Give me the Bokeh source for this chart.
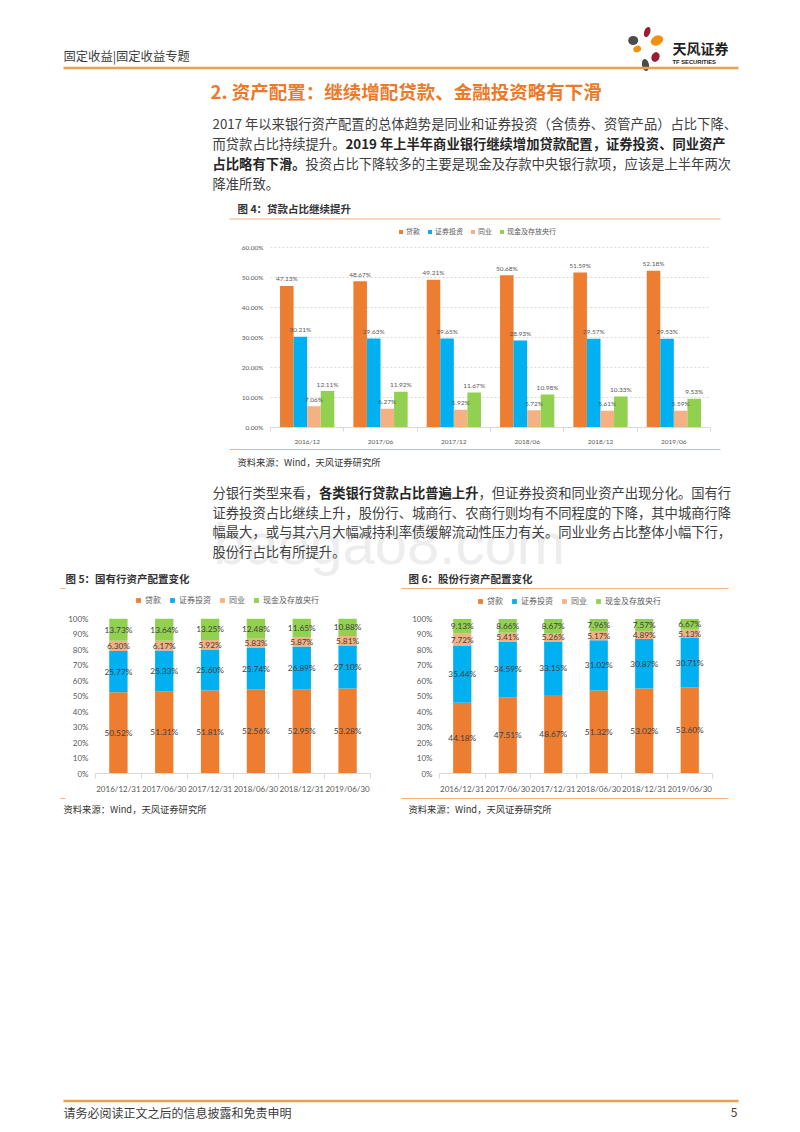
import numpy as np
from bokeh.plotting import figure
from bokeh.layouts import column, row
from bokeh.models import Range1d, FixedTicker, PrintfTickFormatter, ColumnDataSource
from bokeh.core.properties import value
from bokeh.embed import file_html
from bokeh.resources import INLINE

# ---------------- data ----------------
series_names = ["贷款", "证券投资", "同业", "现金及存放央行"]
series_colors = ["#ED7D31", "#00B0F0", "#F4B183", "#92D050"]

fig4_periods = ["2016/12", "2017/06", "2017/12", "2018/06", "2018/12", "2019/06"]
fig4_loans = [47.13, 48.67, 49.21, 50.68, 51.59, 52.18]
fig4_securities = [30.21, 29.63, 29.65, 28.93, 29.57, 29.53]
fig4_interbank = [7.06, 6.27, 5.92, 5.72, 5.61, 5.59]
fig4_cash = [12.11, 11.92, 11.67, 10.98, 10.33, 9.53]
fig4_yticks = [0, 10, 20, 30, 40, 50, 60]

stack_dates = ["2016/12/31", "2017/06/30", "2017/12/31", "2018/06/30", "2018/12/31", "2019/06/30"]
stack_yticks = [0, 10, 20, 30, 40, 50, 60, 70, 80, 90, 100]

fig5_loans = [50.52, 51.31, 51.81, 52.56, 52.95, 53.28]
fig5_securities = [25.77, 25.33, 25.60, 25.74, 26.89, 27.10]
fig5_interbank = [6.30, 6.17, 5.92, 5.83, 5.87, 5.81]
fig5_cash = [13.73, 13.64, 13.25, 12.48, 11.65, 10.88]

fig6_loans = [44.18, 47.51, 48.67, 51.32, 53.02, 53.60]
fig6_securities = [35.44, 34.59, 33.15, 31.02, 30.87, 30.71]
fig6_interbank = [7.72, 5.41, 5.26, 5.17, 4.89, 5.13]
fig6_cash = [9.13, 8.66, 8.67, 7.96, 7.57, 6.67]

header_text = "固定收益|固定收益专题"
section_title = "2. 资产配置：继续增配贷款、金融投资略有下滑"
fig4_title = "图 4：贷款占比继续提升"
fig5_title = "图 5：国有行资产配置变化"
fig6_title = "图 6：股份行资产配置变化"
source_text = "资料来源：Wind，天风证券研究所"
footer_text = "请务必阅读正文之后的信息披露和免责申明"
page_no = "5"

CJK = "Noto Sans CJK SC"
NUM = "Lato"
TXT = "#404040"
ORANGE_LINE = "#EF9F4C"
LIGHT_LINE = "#F2B27A"


def page_fig(x0, x1, y0, y1):
    p = figure(width=x1 - x0, height=y1 - y0, x_range=Range1d(x0, x1), y_range=Range1d(y1, y0),
               x_axis_type=None, y_axis_type=None, toolbar_location=None, output_backend="svg",
               min_border=0, outline_line_color=None)
    p.frame_align = False
    return p


def put(p, x, y, s, size, color=TXT, bold=False, font=CJK, align="left", baseline="middle"):
    p.text(x=[x], y=[y], text=[s], text_font=value(font), text_font_size=value(f"{size}px"),
           text_color=color, text_font_style="bold" if bold else "normal",
           text_align=align, text_baseline=baseline)


def hline(p, x0, x1, y, color, w):
    p.line(x=[x0, x1], y=[y, y], line_color=color, line_width=w)


# ---------------- section A: header, title, paragraph 1 ----------------
pa = page_fig(0, 800, 0, 222)
put(pa, 63, 55, header_text, 12.3, color="#3C3C3C")
# logo
pa.ellipse(x=[632.7], y=[40], width=10, height=9, fill_color="#4B4B4B", line_color=None)
pa.ellipse(x=[646.7], y=[31.5], width=6, height=10.5, angle=-0.35, fill_color="#9B1C33", line_color=None)
pa.ellipse(x=[656.5], y=[40], width=13, height=9.5, angle=0.45, fill_color="#F0920F", line_color=None)
pa.ellipse(x=[636.7], y=[48.5], width=8, height=6.5, angle=0.3, fill_color="#F0920F", line_color=None)
pa.ellipse(x=[655], y=[56.5], width=8, height=10, angle=-0.4, fill_color="#9B1C33", line_color=None)
pa.ellipse(x=[645], y=[64.5], width=7, height=12, angle=0.2, fill_color="#4B4B4B", line_color=None)
put(pa, 672, 47, "天风证券", 14, color="#222222", bold=True)
put(pa, 672, 61.5, "TF SECURITIES", 5.8, color="#222222", bold=True, font="Liberation Sans")
hline(pa, 63, 738, 67.5, ORANGE_LINE, 2.5)

put(pa, 210, 90, section_title, 18.5, color="#EC7A2A", bold=True)

p1_y = [122.5, 142.5, 162.5, 182.5]
put(pa, 212, p1_y[0], "2017 年以来银行资产配置的总体趋势是同业和证券投资（含债券、资管产品）占比下降、", 13.3)
put(pa, 212, p1_y[1], "而贷款占比持续提升。", 13.3)
put(pa, 345, p1_y[1], "2019 年上半年商业银行继续增加贷款配置，证券投资、同业资产", 13.3, color="#262626", bold=True)
put(pa, 212, p1_y[2], "占比略有下滑。", 13.3, color="#262626", bold=True)
put(pa, 305, p1_y[2], "投资占比下降较多的主要是现金及存款中央银行款项，应该是上半年两次", 13.3)
put(pa, 212, p1_y[3], "降准所致。", 13.3)

put(pa, 237, 208, fig4_title, 10.5, color="#333333", bold=True)
hline(pa, 229, 720, 218.5, LIGHT_LINE, 1.2)

# ---------------- section B: figure 4 (clustered bars) ----------------
ppu4 = 182 / 60.0
p4 = figure(width=800, height=225, x_range=Range1d(0, 6), y_range=Range1d(0, 207 / ppu4),
            toolbar_location=None, output_backend="svg",
            min_border_left=270, min_border_right=90, min_border_top=0, min_border_bottom=18,
            outline_line_color=None)
p4.frame_align = False
xc = np.arange(len(fig4_periods)) + 0.5
w4 = 0.185
offs = [-1.5 * w4, -0.5 * w4, 0.5 * w4, 1.5 * w4]
srcs = []
for vals, name, col, off in zip([fig4_loans, fig4_securities, fig4_interbank, fig4_cash],
                                series_names, series_colors, offs):
    src = ColumnDataSource(dict(x=xc + off, top=vals,
                                lab=[f"{v:.2f}%" for v in vals],
                                ly=np.array(vals) + 7.0 / ppu4))
    p4.vbar(x="x", top="top", bottom=0, width=w4, fill_color=col, line_color=None,
            source=src, legend_label=name)
    srcs.append(src)
for src in srcs:
    p4.text(x="x", y="ly", text="lab", source=src, text_font=value(NUM),
            text_font_size=value("6.5px"), text_color="#595959",
            text_align="center", text_baseline="middle")

yt4 = FixedTicker(ticks=fig4_yticks)
p4.yaxis.ticker = yt4
p4.ygrid.ticker = yt4
p4.yaxis.formatter = PrintfTickFormatter(format="%.2f%%")
p4.yaxis.axis_line_color = None
p4.yaxis.major_tick_line_color = None
p4.yaxis.minor_tick_line_color = None
p4.yaxis.major_tick_out = 0
p4.yaxis.major_tick_in = 0
p4.yaxis.major_label_standoff = 7
p4.yaxis.major_label_text_font = NUM
p4.yaxis.major_label_text_font_size = "6.5px"
p4.yaxis.major_label_text_color = "#595959"
p4.ygrid.grid_line_color = "#D9D9D9"
p4.ygrid.grid_line_dash = "2 2"
p4.xgrid.visible = False

xa = p4.xaxis[0]
xa.ticker = FixedTicker(ticks=list(xc), minor_ticks=list(range(len(fig4_periods) + 1)))
xa.major_label_overrides = {float(x): lab for x, lab in zip(xc, fig4_periods)}
xa.major_tick_line_color = None
xa.major_tick_out = 0
xa.major_tick_in = 0
xa.minor_tick_line_color = "#D9D9D9"
xa.minor_tick_out = 4
xa.minor_tick_in = 0
xa.axis_line_color = "#D9D9D9"
xa.major_label_standoff = 6
xa.major_label_text_font = NUM
xa.major_label_text_font_size = "6.5px"
xa.major_label_text_color = "#595959"

lg = p4.legend[0]
lg.orientation = "horizontal"
lg.location = (128, 191)
lg.border_line_color = None
lg.background_fill_alpha = 0
lg.glyph_width = 5
lg.glyph_height = 5
lg.label_width = 0
lg.label_height = 7
lg.label_standoff = 3
lg.spacing = 7
lg.padding = 0
lg.margin = 0
lg.label_text_font = CJK
lg.label_text_font_size = "7px"
lg.label_text_color = "#595959"

# ---------------- section C: source, paragraph 2, titles ----------------
pc = page_fig(0, 800, 447, 592)
pc.text(x=[213], y=[543], text=["baogao8.com"], text_font=value("Liberation Sans"),
        text_font_size=value("58px"), text_color="#EDEDED", text_baseline="middle")
hline(pc, 229, 720, 449, LIGHT_LINE, 1.2)
put(pc, 237, 461, source_text, 9.3, color="#333333")
p2_y = [492, 511.5, 531, 550.5]
put(pc, 212, p2_y[0], "分银行类型来看，", 13.3)
put(pc, 318.4, p2_y[0], "各类银行贷款占比普遍上升", 13.3, color="#262626", bold=True)
put(pc, 478, p2_y[0], "，但证券投资和同业资产出现分化。国有行", 13.3)
put(pc, 212, p2_y[1], "证券投资占比继续上升，股份行、城商行、农商行则均有不同程度的下降，其中城商行降", 13.3)
put(pc, 212, p2_y[2], "幅最大，或与其六月大幅减持利率债缓解流动性压力有关。同业业务占比整体小幅下行，", 13.3)
put(pc, 212, p2_y[3], "股份行占比有所提升。", 13.3)
put(pc, 65, 578, fig5_title, 10.5, color="#333333", bold=True)
put(pc, 408, 578, fig6_title, 10.5, color="#333333", bold=True)
hline(pc, 60, 65, 588, LIGHT_LINE, 1.2)
hline(pc, 401, 728, 588, LIGHT_LINE, 1.2)


# ---------------- section D: figures 5 and 6 (100% stacked) ----------------
def stack_fig(loans, secs, ibs, cash, left, right, bottom, ppu, legend_x):
    height = 204
    fh = height - bottom
    p = figure(width=400, height=height, x_range=Range1d(0, 6), y_range=Range1d(0, fh / ppu),
               toolbar_location=None, output_backend="svg",
               min_border_left=left, min_border_right=right, min_border_top=0,
               min_border_bottom=bottom, outline_line_color=None)
    p.frame_align = False
    vals = np.array([loans, secs, ibs, cash], dtype=float)
    frac = vals / vals.sum(axis=0) * 100.0
    tops = np.cumsum(frac, axis=0)
    bots = tops - frac
    x = np.arange(len(stack_dates)) + 0.5
    for i in range(4):
        src = ColumnDataSource(dict(x=x, top=tops[i], bottom=bots[i]))
        p.vbar(x="x", top="top", bottom="bottom", width=0.4, fill_color=series_colors[i],
               line_color=None, source=src, legend_label=series_names[i])
    for i in range(4):
        src = ColumnDataSource(dict(x=x, y=(tops[i] + bots[i]) / 2.0,
                                    lab=[f"{v:.2f}%" for v in vals[i]]))
        p.text(x="x", y="y", text="lab", source=src, text_font=value(NUM),
               text_font_size=value("8.3px"), text_color="#404040",
               text_align="center", text_baseline="middle")
    yt = FixedTicker(ticks=stack_yticks)
    p.yaxis.ticker = yt
    p.ygrid.ticker = yt
    p.ygrid.visible = False
    p.xgrid.visible = False
    p.yaxis.formatter = PrintfTickFormatter(format="%d%%")
    p.yaxis.axis_line_color = None
    p.yaxis.major_tick_line_color = None
    p.yaxis.minor_tick_line_color = None
    p.yaxis.major_tick_out = 0
    p.yaxis.major_tick_in = 0
    p.yaxis.major_label_standoff = 7
    p.yaxis.major_label_text_font = NUM
    p.yaxis.major_label_text_font_size = "8px"
    p.yaxis.major_label_text_color = "#595959"
    ax = p.xaxis[0]
    ax.ticker = FixedTicker(ticks=list(x), minor_ticks=list(range(len(stack_dates) + 1)))
    ax.major_label_overrides = {float(xx): lab for xx, lab in zip(x, stack_dates)}
    ax.major_tick_line_color = None
    ax.major_tick_out = 0
    ax.major_tick_in = 0
    ax.minor_tick_line_color = "#D9D9D9"
    ax.minor_tick_out = 5
    ax.minor_tick_in = 0
    ax.axis_line_color = "#D9D9D9"
    ax.major_label_standoff = 5
    ax.major_label_text_font = NUM
    ax.major_label_text_font_size = "8px"
    ax.major_label_text_color = "#595959"
    lgd = p.legend[0]
    lgd.orientation = "horizontal"
    lgd.location = (legend_x, fh - 18)
    lgd.border_line_color = None
    lgd.background_fill_alpha = 0
    lgd.glyph_width = 6
    lgd.glyph_height = 6
    lgd.label_width = 0
    lgd.label_height = 8
    lgd.label_standoff = 4
    lgd.spacing = 8
    lgd.padding = 0
    lgd.margin = 0
    lgd.label_text_font = CJK
    lgd.label_text_font_size = "8px"
    lgd.label_text_color = "#595959"
    return p


p5 = stack_fig(fig5_loans, fig5_securities, fig5_interbank, fig5_cash,
               left=95, right=30, bottom=18, ppu=1.59, legend_x=40)
p6 = stack_fig(fig6_loans, fig6_securities, fig6_interbank, fig6_cash,
               left=39, right=88, bottom=19, ppu=1.58, legend_x=38)

# ---------------- section E: sources and footer ----------------
pe = page_fig(0, 800, 796, 1132)
hline(pe, 60, 65, 798, LIGHT_LINE, 1.2)
hline(pe, 401, 728, 798, LIGHT_LINE, 1.2)
put(pe, 63, 808, source_text, 9.3, color="#333333")
put(pe, 408, 808, source_text, 9.3, color="#333333")
hline(pe, 63, 738, 1100.5, ORANGE_LINE, 2.5)
put(pe, 63, 1112, footer_text, 12, color="#3C3C3C")
put(pe, 737, 1112, page_no, 12, color="#3C3C3C", align="right")

layout = column(pa, p4, pc, row(p5, p6), pe)
open("out.html", "w").write(file_html(layout, INLINE))
